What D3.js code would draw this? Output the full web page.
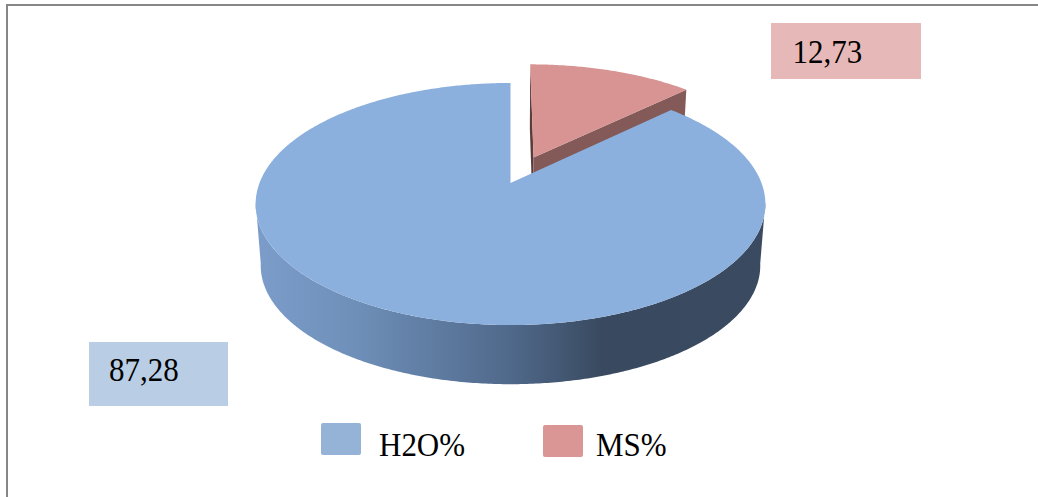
<!DOCTYPE html>
<html>
<head>
<meta charset="utf-8">
<style>
html,body{margin:0;padding:0;background:#fff;}
svg{display:block;}
text{font-family:"Liberation Serif",serif;fill:#000;}
</style>
<script src="https://cdn.jsdelivr.net/npm/d3@7"></script>
</head>
<body>
<svg id="chart" width="1038" height="497"></svg>
<script>
const categories = ["H2O%", "MS%"];
const values = [87.28, 12.73];
const valueLabels = ["87,28", "12,73"];
const topColors = ["#8cb0de", "#d79492"];
const legendColors = ["#95b3d7", "#d99694"];
const labelFills = ["#b9cde5", "#e6b9b8"];

const svg = d3.select("#chart");

// Frame around the chart area
svg.append("rect").attr("x", 7).attr("y", 5).attr("width", 1040).attr("height", 495)
  .attr("fill", "#fff").attr("stroke", "#868686").attr("stroke-width", 2);

// Perspective mapping of the unit disc onto the tilted pie plane
const apex = {x: 510.5, y: 183};
const persp = -0.1736, radiusX = 251, radiusY = 117.4;
const lowerScale = 0.98, lowerDrop = 62;
function project(u, v, lower) {
  const w = 1 + persp * v;
  const k = lower ? lowerScale : 1;
  return [apex.x + k * radiusX * u / w,
          apex.y + k * radiusY * v / w + (lower ? lowerDrop : 0)];
}
// Point on the disc at a pie angle (0 at the back, clockwise), radius r, pushed out by an offset
function discPoint(angle, r, off, lower) {
  return project(r * Math.sin(angle) + off.u, -r * Math.cos(angle) + off.v, lower);
}

const total = d3.sum(values);
const startShare = values[1] / total * 2 * Math.PI;
const arcs = d3.pie().sort(null).value(d => d)
  .startAngle(startShare).endAngle(startShare + 2 * Math.PI)(values);

const line = d3.line();
const step = 0.01;
function sweep(a0, a1, off, lower) {
  const n = Math.max(2, Math.ceil(Math.abs(a1 - a0) / step));
  return d3.range(n + 1).map(i => discPoint(a0 + (a1 - a0) * i / n, 1, off, lower));
}

const defs = svg.append("defs");
const wallGrad = defs.append("linearGradient").attr("id", "wallShade")
  .attr("gradientUnits", "userSpaceOnUse")
  .attr("x1", 255).attr("x2", 765).attr("y1", 0).attr("y2", 0);
[[0, "#7c9dca"], [0.2, "#6e8fb8"], [0.5, "#50698b"], [0.68, "#394a60"], [1, "#3a4b61"]]
  .forEach(([o, c]) => wallGrad.append("stop").attr("offset", o).attr("stop-color", c));

const noOffset = {u: 0, v: 0};
const blue = arcs[0], pink = arcs[1];

// Exploded slice: pushed out along its bisector
const mid = (pink.startAngle + pink.endAngle) / 2 - 2 * Math.PI;
const explode = 0.245;
const pinkOff = {u: explode * Math.sin(mid), v: -explode * Math.cos(mid)};
const pinkStart = pink.startAngle, pinkEnd = pink.endAngle;
const centreOf = (off, lower) => project(off.u, off.v, lower);

// Left cut face of the exploded slice
svg.append("path").attr("fill", "#5c3d3c").attr("d", line([
  centreOf(pinkOff, false), discPoint(pinkStart, 1, pinkOff, false),
  discPoint(pinkStart, 1, pinkOff, true), centreOf(pinkOff, true)]) + "Z");
// Front cut face of the exploded slice
svg.append("path").attr("fill", "#835a58").attr("d", line([
  centreOf(pinkOff, false), discPoint(pinkEnd, 1, pinkOff, false),
  discPoint(pinkEnd, 1, pinkOff, true), centreOf(pinkOff, true)]) + "Z");
// Top of the exploded slice
svg.append("path").attr("fill", topColors[1]).attr("d",
  line([centreOf(pinkOff, false), ...sweep(pinkStart, pinkEnd, pinkOff, false)]) + "Z");

// Outer wall of the large slice, between the two silhouette points of the disc
const wallFrom = Math.PI * 0.55, wallTo = Math.PI * 1.45;
svg.append("path").attr("fill", "url(#wallShade)").attr("d", line([
  ...sweep(wallFrom, wallTo, noOffset, false),
  ...sweep(wallTo, wallFrom, noOffset, true)]) + "Z");
// Top of the large slice
svg.append("path").attr("fill", topColors[0]).attr("d",
  line([centreOf(noOffset, false), ...sweep(blue.startAngle, blue.endAngle, noOffset, false)]) + "Z");

// Text is drawn slightly tall, stretched vertically about its baseline
function stretchedText(x, y, str) {
  svg.append("text").attr("transform", `translate(${x},${y}) scale(1,1.08)`)
    .attr("font-size", 31).text(str);
}

// Value labels in tinted boxes
const labelBoxes = [
  {x: 89, y: 342, w: 139, h: 64, tx: 109, ty: 381},
  {x: 771, y: 23, w: 150, h: 56, tx: 792.5, ty: 62.5}
];
labelBoxes.forEach((b, i) => {
  svg.append("rect").attr("x", b.x).attr("y", b.y).attr("width", b.w).attr("height", b.h)
    .attr("fill", labelFills[i]);
  stretchedText(b.tx, b.ty, valueLabels[i]);
});

// Legend
const legendItems = [
  {sx: 321, sy: 423, tx: 379, ty: 455.5},
  {sx: 543, sy: 425, tx: 596, ty: 455.5}
];
legendItems.forEach((l, i) => {
  svg.append("rect").attr("x", l.sx).attr("y", l.sy).attr("width", 40).attr("height", 32).attr("rx", 2)
    .attr("fill", legendColors[i]);
  stretchedText(l.tx, l.ty, categories[i]);
});
</script>
</body>
</html>
